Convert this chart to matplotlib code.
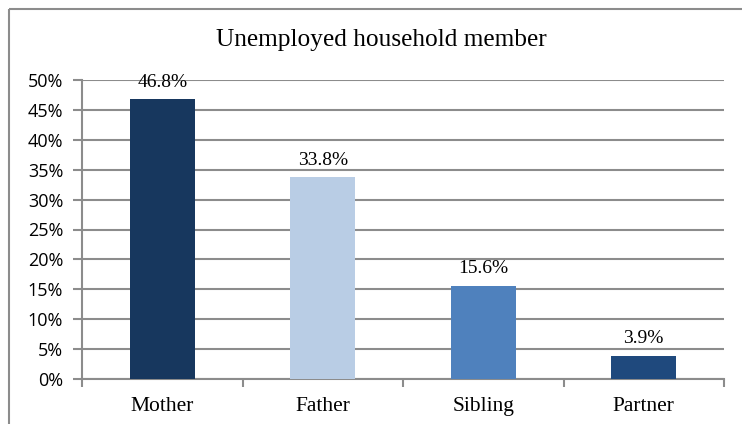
import matplotlib
matplotlib.use("Agg")
from matplotlib import pyplot as plt
from matplotlib.patches import Rectangle

categorias = ["Mother", "Father", "Sibling", "Partner"]
valores = [46.8, 33.8, 15.6, 3.9]
rotulos = ["46.8%", "33.8%", "15.6%", "3.9%"]
cores = ["#17375E", "#B9CDE5", "#4F81BD", "#1F497D"]
ticks_y = [0, 5, 10, 15, 20, 25, 30, 35, 40, 45, 50]

fig = plt.figure(figsize=(7.42, 4.24), dpi=100)
ax = fig.add_axes([82 / 742, 1 - 379 / 424, 642 / 742, 299 / 424])

# moldura externa (cortada a direita e embaixo)
fig.patches.append(Rectangle((9 / 742, 1 - 9 / 424), 2, -2, transform=fig.transFigure,
                             fill=False, edgecolor="#8c8c8c", linewidth=1.5))

x = range(len(categorias))
ax.bar(x, valores, width=0.405, color=cores, zorder=3)

for xi, v, r in zip(x, valores, rotulos):
    ax.annotate(r, (xi, v), xytext=(0, 6), textcoords="offset points",
                ha="center", va="bottom", fontsize=14, family="Liberation Serif")

ax.set_xlim(-0.5, 3.5)
ax.set_ylim(0, 50)
ax.set_yticks(ticks_y)
ax.set_yticklabels([f"{t}%" for t in ticks_y], family="Open Sans", fontsize=13)
ax.yaxis.grid(True, color="#8c8c8c", linewidth=1.5, zorder=0)
ax.tick_params(axis="y", length=6.5, width=1.5, color="#8c8c8c", pad=7)

ax.set_xticks([-0.5, 0.5, 1.5, 2.5, 3.5])
ax.set_xticklabels([])
ax.tick_params(axis="x", length=6, width=1.5, color="#8c8c8c", direction="out")
ax.set_xticks(list(x), minor=True)
ax.set_xticklabels(categorias, minor=True, family="Liberation Serif", fontsize=15.5)
ax.tick_params(axis="x", which="minor", length=0, pad=13)

for lado in ["top", "right"]:
    ax.spines[lado].set_visible(False)
for lado in ["left", "bottom"]:
    ax.spines[lado].set_color("#8c8c8c")
    ax.spines[lado].set_linewidth(1.5)

fig.text(381 / 742, 1 - 40 / 424, "Unemployed household member", ha="center", va="center",
         fontsize=18.3, family="Liberation Serif")

plt.savefig("out.png", dpi=100)
